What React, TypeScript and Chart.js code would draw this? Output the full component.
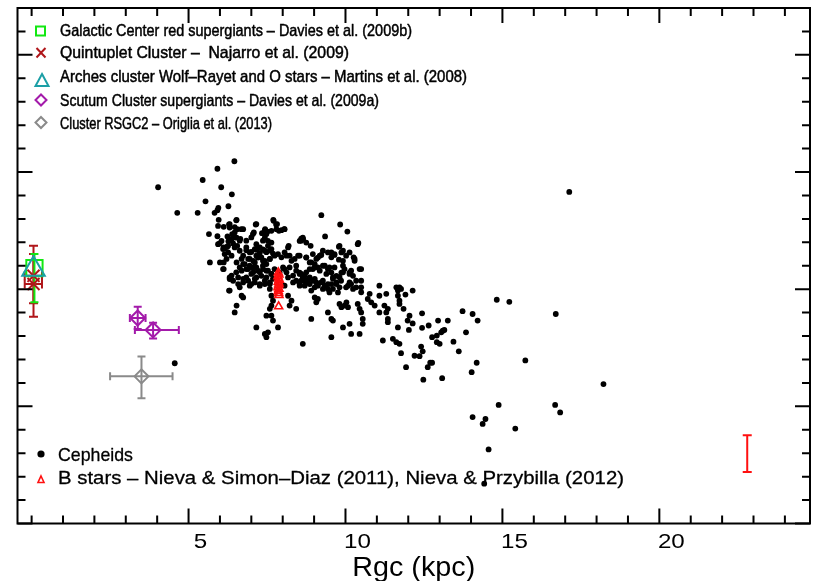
import React, { useEffect, useRef } from 'react';
import { Chart, registerables } from 'chart.js';

Chart.register(...registerables);

// ---------- DATA (Rgc in kpc, [Fe/H] in dex) ----------
const cepheids: [number, number][] = [
  [4.03,0.435],[6.46,0.546],[5.92,0.514],[5.45,0.466],[6.04,0.435],[6.38,0.405],[5.54,0.375],[6.27,0.354],[5.95,0.347],[5.92,0.337],
  [5.83,0.326],[4.64,0.326],[5.29,0.326],[5.96,0.296],[6.53,0.296],[6.29,0.276],[6.12,0.266],[6.47,0.265],[6.74,0.256],[7.14,0.276],
  [7.70,0.296],[7.79,0.276],[8.05,0.256],[7.44,0.256],[7.88,0.249],[5.65,0.235],[5.92,0.226],[6.24,0.225],[6.39,0.235],[6.65,0.215],
  [7.05,0.235],[7.34,0.239],[7.51,0.245],[8.59,0.216],[5.99,0.195],[6.27,0.205],[6.16,0.175],[6.42,0.195],[6.55,0.185],[8.19,0.185],
  [6.31,0.263],[6.47,0.242],[6.53,0.220],[6.05,0.206],[6.37,0.214],[7.43,0.220],[7.53,0.206],[7.64,0.199],[8.54,0.206],[8.75,0.199],
  [6.84,0.166],[7.00,0.159],[7.16,0.168],[7.27,0.155],[7.37,0.170],[7.48,0.158],[7.59,0.165],[7.69,0.152],
  [6.10,0.171],[6.26,0.157],[6.37,0.143],[6.21,0.129],[6.00,0.114],[6.53,0.114],[6.69,0.129],[6.79,0.107],[5.68,0.114],
  [6.95,0.129],[7.11,0.114],[7.21,0.135],[7.37,0.121],[7.48,0.107],[7.59,0.129],[7.05,0.093],[7.21,0.079],[7.37,0.086],[7.53,0.079],
  [7.00,0.065],[7.16,0.050],[7.32,0.057],[7.48,0.050],[7.64,0.065],[6.90,0.086],[6.84,0.050],[6.69,0.079],[6.58,0.050],[6.74,0.029],
  [6.95,0.015],[7.11,0.029],[7.27,0.015],[7.43,0.022],[7.59,0.029],
  [8.12,0.143],[8.28,0.121],[8.43,0.100],[8.54,0.071],[8.70,0.057],[8.80,0.037],[8.06,0.086],[8.17,0.050],[8.33,0.029],[8.06,0.015],[8.54,0.015],
  [6.31,0.050],[6.10,0.086],[6.63,0.008],[6.69,-0.028],[6.74,-0.035],[6.31,-0.006],
  [7.59,0.001],[7.64,-0.028],[7.69,-0.049],[7.64,-0.070],[7.59,-0.084],
  [8.17,-0.028],[8.28,-0.049],[8.22,-0.070],[8.43,-0.084],
  [6.53,-0.070],[6.47,-0.099],[7.48,-0.113],[7.64,-0.113],[7.69,-0.134],[7.85,-0.163],[7.16,-0.163],[7.43,-0.191],[7.48,-0.205],[7.53,-0.184],[8.64,-0.233],
  [9.23,0.316],[9.83,0.276],[10.06,0.246],[9.35,0.225],[10.41,0.197],[8.89,0.185],[9.81,0.185],[8.64,0.220],[8.54,0.143],[8.75,0.135],
  [9.12,0.135],[9.23,0.146],[9.55,0.157],[9.65,0.146],[9.87,0.157],[9.79,0.126],[9.92,0.121],[10.29,0.129],[8.91,0.114],[9.02,0.107],
  [9.12,0.093],[8.96,0.086],[9.34,0.100],[9.44,0.086],[9.39,0.065],[9.55,0.071],[9.60,0.050],[9.71,0.057],[9.92,0.100],[9.97,0.086],
  [9.87,0.071],[10.13,0.071],[10.18,0.079],[10.24,0.057],[10.50,0.086],[10.34,0.036],[10.50,0.036],[8.54,0.065],[8.64,0.050],[8.59,0.036],
  [8.75,0.029],[8.70,0.015],[8.86,0.050],[8.96,0.036],[9.07,0.029],[9.02,0.008],[9.12,0.015],[8.91,-0.006],[9.23,0.029],[9.34,0.015],
  [9.28,0.001],[9.44,0.001],[9.49,-0.014],[9.60,0.001],[9.55,0.022],[9.71,0.029],[9.81,0.008],[9.76,-0.014],[10.08,0.015],[10.18,0.022],
  [10.24,0.001],[10.50,0.008],[11.08,0.015],[11.62,0.008],[11.72,0.008],[11.67,-0.006],[11.77,0.001],[9.02,-0.035],[9.12,-0.042],[9.07,-0.056],
  [9.81,-0.063],[9.87,-0.077],[9.97,-0.070],[10.03,-0.056],[10.08,-0.077],[10.39,-0.063],[10.45,-0.084],[10.50,-0.099],[10.55,-0.127],[10.55,-0.148],
  [10.77,-0.020],[10.71,-0.042],[10.82,-0.056],[10.93,-0.070],[11.08,-0.099],[11.30,-0.020],[11.08,-0.028],[11.24,-0.070],[11.35,-0.084],[11.30,-0.099],
  [11.35,-0.127],[11.35,-0.141],[11.67,-0.028],[11.72,-0.049],[11.72,-0.063],[9.44,-0.099],[9.55,-0.127],[9.60,-0.134],[8.91,-0.127],[10.13,-0.148],
  [9.92,-0.163],[11.67,-0.163],[10.18,-0.191],[10.45,-0.191],[9.55,-0.205],[11.19,-0.219],[11.51,-0.212],[11.62,-0.226],[11.72,-0.233],
  [11.91,-0.023],[12.14,-0.006],[11.85,-0.084],[12.04,-0.113],[11.98,-0.134],[12.14,-0.146],[12.44,-0.103],[12.02,-0.174],[12.44,-0.165],[12.65,-0.155],
  [12.95,-0.134],[13.26,-0.134],[13.73,-0.094],[14.05,-0.106],[14.21,-0.134],[14.82,-0.045],[15.22,-0.054],[13.10,-0.177],[13.15,-0.174],[13.05,-0.184],
  [12.76,-0.205],[12.91,-0.198],[12.91,-0.226],[13.00,-0.233],[13.44,-0.224],[13.84,-0.184],[11.77,-0.273],[12.41,-0.245],[12.46,-0.265],[12.20,-0.284],
  [12.36,-0.286],[13.61,-0.265],[12.70,-0.314],[12.76,-0.314],[12.62,-0.333],[11.93,-0.333],[14.18,-0.314],[14.02,-0.354],[15.73,-0.304],[13.08,-0.380],
  [12.48,-0.386],
  [16.70,-0.106],[18.22,-0.405],[14.88,-0.494],[16.68,-0.494],[16.84,-0.526],[14.46,-0.554],[14.37,-0.575],[15.41,-0.595],[14.56,-0.684],[17.13,0.415],
  [14.05,-0.546],[4.56,-0.316],[14.42,-0.830],
  [6.12,0.114],[6.12,0.086],[6.31,0.043],[6.29,-0.006],[5.94,0.270],[5.94,0.192],[6.12,0.178],[6.23,0.181],[6.15,0.150],
  [6.52,0.294],[6.31,0.278],[6.55,0.256],[6.68,0.256],[6.42,0.221],[6.63,0.207],[6.26,0.185],[6.47,0.178],[6.63,0.164],[6.84,0.178],
  [6.95,0.157],[7.11,0.171],[7.16,0.192],[7.27,0.178],[7.43,0.164],[7.53,0.185],[7.64,0.171],[7.37,0.207],[7.48,0.235],[7.43,0.252],
  [7.64,0.249],[7.80,0.256],[7.71,0.292],[7.82,0.278],[7.96,0.252],[8.06,0.256],[7.16,0.278],[7.08,0.242],[7.00,0.221],[6.84,0.207],
  [6.74,0.143],[6.90,0.129],[7.06,0.121],[7.16,0.143],[7.32,0.136],[7.43,0.121],[7.59,0.129],[7.74,0.143],[7.85,0.150],[7.96,0.136],
  [8.06,0.157],[8.17,0.178],[8.22,0.143],[8.38,0.129],[8.49,0.143],[8.59,0.207],[8.65,0.214],[8.75,0.136],[8.86,0.114],[8.96,0.150],
  [9.07,0.129],[9.18,0.143],[9.28,0.164],[9.44,0.157],[9.55,0.136],[9.65,0.150],[9.79,0.181],[9.92,0.164],[10.02,0.143],[10.13,0.157],
  [10.26,0.136],[10.39,0.192],[10.29,0.121],[10.45,0.086],[10.13,0.065],[9.92,0.072],[9.81,0.051],[9.65,0.093],[9.49,0.093],[9.28,0.100],
  [9.18,0.079],[9.02,0.093],[8.86,0.086],[8.75,0.072],[8.59,0.065],[8.43,0.079],[8.33,0.058],[8.22,0.093],[8.12,0.072],[8.01,0.093],
  [7.90,0.072],[7.74,0.086],[7.64,0.065],[7.48,0.079],[7.37,0.100],[7.27,0.072],[7.16,0.093],[7.06,0.072],[6.95,0.100],[6.84,0.086],
  [6.74,0.107],[6.63,0.093],[6.52,0.072],[6.37,0.058],[6.42,0.036],[6.58,0.022],[6.74,0.044],[6.90,0.036],[7.00,0.022],[7.11,0.044],
  [7.27,0.022],[7.43,0.036],[7.59,0.022],[7.69,0.044],[8.43,0.036],[8.54,0.022],[8.70,0.036],[8.86,0.022],[9.02,0.044],[9.12,0.022],
  [9.28,0.036],[9.44,0.022],[9.60,0.044],[9.71,0.022],[9.86,0.036],[10.02,0.008],[10.13,0.029],[10.34,0.008],[10.50,-0.013],
];

const bStarRgc = [7.86, 7.88, 7.85, 7.87, 7.89, 7.86, 7.88, 7.87, 7.85, 7.88, 7.86, 7.87, 7.88, 7.87];
const bStarFeH = [0.071, 0.062, 0.055, 0.046, 0.040, 0.031, 0.024, 0.016, 0.008, 0.001, -0.008, -0.017, -0.026, -0.074];

const gcRsgRgc = [0.09];
const gcRsgFeH = [0.09];
const gcRsgFeHLo = [-0.056];
const gcRsgFeHHi = [0.15];

const quintRgc = [0.06, 0.06];
const quintFeH = [0.057, 0.022];
const quintRgcLo = [-0.22, -0.22];
const quintRgcHi = [0.33, 0.33];
const quintFeHLo = [-0.06, -0.118];
const quintFeHHi = [0.185, 0.15];

const archesRgc = [0.06];
const archesFeH = [0.085];

const scutumRgc = [3.38, 3.87];
const scutumFeH = [-0.123, -0.174];
const scutumRgcLo = [3.13, 3.29];
const scutumRgcHi = [3.63, 4.69];
const scutumFeHLo = [-0.17, -0.21];
const scutumFeHHi = [-0.075, -0.143];

const rsgc2Rgc = [3.5];
const rsgc2FeH = [-0.372];
const rsgc2RgcLo = [2.5];
const rsgc2RgcHi = [4.49];
const rsgc2FeHLo = [-0.465];
const rsgc2FeHHi = [-0.287];

const typErrRgc = [22.8];
const typErrFeH = [-0.7];
const typErrFeHLo = [-0.78];
const typErrFeHHi = [-0.623];

const xTickValues = [5, 10, 15, 20];
const xTickLabels = ['5', '10', '15', '20'];

const topLegend = [
  'Galactic Center red supergiants – Davies et al. (2009b)',
  'Quintuplet Cluster –  Najarro et al. (2009)',
  'Arches cluster Wolf–Rayet and O stars – Martins et al. (2008)',
  'Scutum Cluster supergiants – Davies et al. (2009a)',
  'Cluster RSGC2 – Origlia et al. (2013)',
];
const bottomLegend = ['Cepheids', 'B stars – Nieva & Simon–Diaz (2011), Nieva & Przybilla (2012)'];

// ---------- COLOURS ----------
const GREEN = '#12e812';
const DARKRED = '#b0161a';
const TEAL = '#1c9fa6';
const PURPLE = '#a31aaa';
const GREY = '#8a8a8a';
const RED = '#ff1010';

const pts = (xs: number[], ys: number[]) => xs.map((x, i) => ({ x, y: ys[i] }));

function fitText(ctx: CanvasRenderingContext2D, text: string, x: number, y: number, font: string, width: number, center = false, bold = 0) {
  ctx.save();
  ctx.font = font;
  ctx.fillStyle = '#000';
  ctx.strokeStyle = '#000';
  ctx.textBaseline = 'alphabetic';
  ctx.textAlign = 'left';
  const w = ctx.measureText(text).width;
  const x0 = center ? x - width / 2 : x;
  ctx.translate(x0, y);
  ctx.scale(width / w, 1);
  ctx.fillText(text, 0, 0);
  if (bold > 0) {
    ctx.lineWidth = bold;
    ctx.lineJoin = 'round';
    ctx.strokeText(text, 0, 0);
  }
  ctx.restore();
}

const errorBarPlugin = {
  id: 'errorBars',
  beforeDatasetsDraw(chart: any) {
    const { ctx } = chart;
    const xs = chart.scales.x;
    const ys = chart.scales.y;
    chart.data.datasets.forEach((ds: any) => {
      const e = ds.err;
      if (!e) return;
      ctx.save();
      ctx.strokeStyle = e.color;
      ctx.lineWidth = 2;
      ds.data.forEach((p: any, i: number) => {
        const px = xs.getPixelForValue(p.x);
        const py = ys.getPixelForValue(p.y);
        const c = e.cap;
        ctx.beginPath();
        if (e.yLo) {
          const y1 = ys.getPixelForValue(e.yLo[i]);
          const y2 = ys.getPixelForValue(e.yHi[i]);
          ctx.moveTo(px, y1); ctx.lineTo(px, y2);
          ctx.moveTo(px - c, y1); ctx.lineTo(px + c, y1);
          ctx.moveTo(px - c, y2); ctx.lineTo(px + c, y2);
        }
        if (e.xLo) {
          const x1 = xs.getPixelForValue(e.xLo[i]);
          const x2 = xs.getPixelForValue(e.xHi[i]);
          ctx.moveTo(x1, py); ctx.lineTo(x2, py);
          ctx.moveTo(x1, py - c); ctx.lineTo(x1, py + c);
          ctx.moveTo(x2, py - c); ctx.lineTo(x2, py + c);
        }
        ctx.stroke();
      });
      ctx.restore();
    });
  },
};

const framePlugin = {
  id: 'frameTicks',
  afterDraw(chart: any) {
    const { ctx, chartArea: a } = chart;
    const xs = chart.scales.x;
    const ys = chart.scales.y;
    ctx.save();
    ctx.strokeStyle = '#000';
    ctx.lineWidth = 2;
    ctx.strokeRect(a.left, a.top, a.right - a.left, a.bottom - a.top);
    ctx.beginPath();
    for (let v = 0; v <= 24; v++) {
      const px = xs.getPixelForValue(v);
      const len = v > 0 && v % 5 === 0 ? 15 : 8;
      ctx.moveTo(px, a.bottom); ctx.lineTo(px, a.bottom - len);
      ctx.moveTo(px, a.top); ctx.lineTo(px, a.top + len);
    }
    for (let k = -10; k <= 12; k++) {
      const py = ys.getPixelForValue(k / 10);
      const len = k % 5 === 0 ? 15 : 8;
      ctx.moveTo(a.left, py); ctx.lineTo(a.left + len, py);
      ctx.moveTo(a.right, py); ctx.lineTo(a.right - len, py);
    }
    ctx.stroke();

    // x tick labels
    ctx.fillStyle = '#000';
    ctx.font = '21px "Liberation Sans", Arial, sans-serif';
    ctx.textAlign = 'center';
    ctx.textBaseline = 'alphabetic';
    xTickValues.forEach((v, i) => {
      const px = xs.getPixelForValue(v) + 12;
      ctx.save();
      ctx.translate(px, 548);
      ctx.scale(1.15, 1);
      ctx.fillText(xTickLabels[i], 0, 0);
      ctx.restore();
    });
    // axis title
    fitText(ctx, 'Rgc (kpc)', (a.left + a.right) / 2, 576, '28px "Liberation Sans", Arial, sans-serif', 123, true);

    // top legend
    const f1 = '17px "Liberation Sans", Arial, sans-serif';
    const widths = [352, 289, 407, 319, 212];
    const baselines = [35.5, 58, 81.5, 105.5, 129];
    topLegend.forEach((t, i) => fitText(ctx, t, 60, baselines[i], f1, widths[i], false, 0.5));
    ctx.lineWidth = 2;
    ctx.strokeStyle = GREEN;
    ctx.strokeRect(36, 26.5, 9, 9);
    ctx.strokeStyle = DARKRED;
    ctx.beginPath();
    ctx.moveTo(36.5, 48); ctx.lineTo(45.5, 57.5);
    ctx.moveTo(45.5, 48); ctx.lineTo(36.5, 57.5);
    ctx.stroke();
    ctx.strokeStyle = TEAL;
    ctx.beginPath();
    ctx.moveTo(42, 74); ctx.lineTo(48.5, 86); ctx.lineTo(35.5, 86); ctx.closePath();
    ctx.stroke();
    const diamond = (cx: number, cy: number, r: number, col: string) => {
      ctx.strokeStyle = col;
      ctx.beginPath();
      ctx.moveTo(cx, cy - r); ctx.lineTo(cx + r, cy); ctx.lineTo(cx, cy + r); ctx.lineTo(cx - r, cy); ctx.closePath();
      ctx.stroke();
    };
    diamond(41, 100, 5.5, PURPLE);
    diamond(41, 122.5, 5.5, GREY);

    // bottom legend
    const f2 = '19px "Liberation Sans", Arial, sans-serif';
    fitText(ctx, bottomLegend[0], 58, 461, f2, 75, false, 0.3);
    fitText(ctx, bottomLegend[1], 58, 483.5, f2, 566, false, 0.3);
    ctx.fillStyle = '#000';
    ctx.beginPath();
    ctx.arc(41, 454, 3.6, 0, Math.PI * 2);
    ctx.fill();
    ctx.strokeStyle = RED;
    ctx.lineWidth = 1.6;
    ctx.beginPath();
    ctx.moveTo(41, 476); ctx.lineTo(44, 482.5); ctx.lineTo(38, 482.5); ctx.closePath();
    ctx.stroke();
    ctx.restore();
  },
};

export default function App() {
  const ref = useRef<HTMLCanvasElement | null>(null);
  useEffect(() => {
    document.body.style.margin = '0';
    const canvas = ref.current;
    if (!canvas) return;
    const none = 'rgba(0,0,0,0)';
    const chart = new Chart(canvas, {
      type: 'scatter',
      data: {
        datasets: [
          {
            label: 'B stars',
            data: pts(bStarRgc, bStarFeH),
            pointStyle: 'triangle',
            pointRadius: 4.6,
            borderColor: RED,
            backgroundColor: none,
            borderWidth: 1.6,
          } as any,
          {
            label: 'Arches',
            data: pts(archesRgc, archesFeH),
            pointStyle: 'triangle',
            pointRadius: 13,
            borderColor: TEAL,
            backgroundColor: none,
            borderWidth: 2,
          },
          {
            label: 'Quintuplet',
            data: pts(quintRgc, quintFeH),
            pointStyle: 'crossRot',
            pointRadius: 8.5,
            borderColor: DARKRED,
            backgroundColor: none,
            borderWidth: 2,
            err: { color: DARKRED, cap: 4.5, xLo: quintRgcLo, xHi: quintRgcHi, yLo: quintFeHLo, yHi: quintFeHHi },
          } as any,
          {
            label: 'GC RSG',
            data: pts(gcRsgRgc, gcRsgFeH),
            pointStyle: 'rect',
            pointRadius: 11.5,
            borderColor: GREEN,
            backgroundColor: none,
            borderWidth: 2,
            err: { color: GREEN, cap: 4, yLo: gcRsgFeHLo, yHi: gcRsgFeHHi },
          } as any,
          {
            label: 'Scutum',
            data: pts(scutumRgc, scutumFeH),
            pointStyle: 'rectRot',
            pointRadius: 7.5,
            borderColor: PURPLE,
            backgroundColor: none,
            borderWidth: 2,
            err: { color: PURPLE, cap: 4, xLo: scutumRgcLo, xHi: scutumRgcHi, yLo: scutumFeHLo, yHi: scutumFeHHi },
          } as any,
          {
            label: 'RSGC2',
            data: pts(rsgc2Rgc, rsgc2FeH),
            pointStyle: 'rectRot',
            pointRadius: 7,
            borderColor: GREY,
            backgroundColor: none,
            borderWidth: 2,
            err: { color: GREY, cap: 4, xLo: rsgc2RgcLo, xHi: rsgc2RgcHi, yLo: rsgc2FeHLo, yHi: rsgc2FeHHi },
          } as any,
          {
            label: 'Typical error',
            data: pts(typErrRgc, typErrFeH),
            pointRadius: 0,
            borderColor: RED,
            backgroundColor: RED,
            err: { color: RED, cap: 4.5, yLo: typErrFeHLo, yHi: typErrFeHHi },
          } as any,
          {
            label: 'Cepheids',
            data: cepheids.map(([x, y]) => ({ x, y })),
            pointStyle: 'circle',
            pointRadius: 2.9,
            borderWidth: 0,
            backgroundColor: '#000',
            borderColor: '#000',
          },
        ],
      },
      options: {
        responsive: false,
        animation: false,
        devicePixelRatio: 1,
        events: [],
        layout: { autoPadding: false, padding: { left: 17.5, top: 8, right: 5, bottom: 57.5 } },
        scales: {
          x: { type: 'linear', min: -0.45, max: 24.8, display: false },
          y: { type: 'linear', min: -1.0, max: 1.2, display: false },
        },
        plugins: { legend: { display: false }, tooltip: { enabled: false } },
      },
      plugins: [errorBarPlugin, framePlugin],
    });
    return () => chart.destroy();
  }, []);
  return (
    <div style={{ width: 815, height: 581, background: '#fff' }}>
      <canvas ref={ref} width={815} height={581} style={{ display: 'block', width: 815, height: 581 }} />
    </div>
  );
}
